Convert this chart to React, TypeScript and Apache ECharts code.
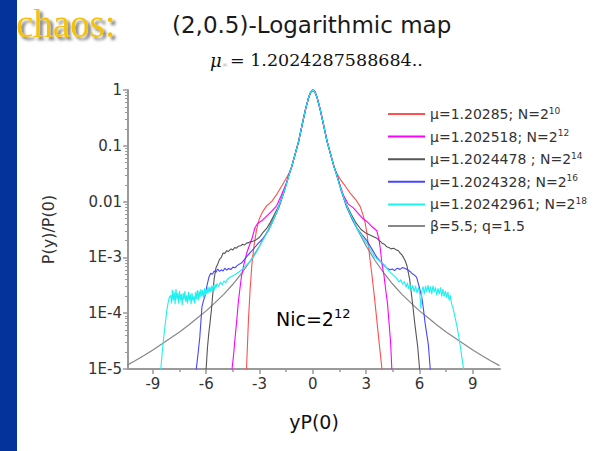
import React, { useEffect, useRef } from 'react';
import * as echarts from 'echarts';

const seriesNames = [
  'μ=1.20285; N=2^10',
  'μ=1.202518; N=2^12',
  'μ=1.2024478 ; N=2^14',
  'μ=1.2024328; N=2^16',
  'μ=1.20242961; N=2^18',
  'β=5.5; q=1.5',
];
const legendMain = [
  'μ=1.20285; N=2',
  'μ=1.202518; N=2',
  'μ=1.2024478 ; N=2',
  'μ=1.2024328; N=2',
  'μ=1.20242961; N=2',
  'β=5.5; q=1.5',
];
const legendSup = ['10', '12', '14', '16', '18', ''];
const seriesColors = ['#ff4f4f', '#ff00ff', '#555555', '#4646ff', '#1ff0f0', '#878787'];

const xTicks = [-9, -6, -3, 0, 3, 6, 9];
const xMinorTicks = [-7.5, -4.5, -1.5, 1.5, 4.5, 7.5];
const yTickLabels = ['1E-5', '1E-4', '1E-3', '0.01', '0.1', '1'];

type P = [number, number];

const corePeak: P[] = [
  [-1.2, 0.041], [-1.0, 0.07], [-0.8, 0.12], [-0.6, 0.24], [-0.4, 0.47], [-0.25, 0.71],
  [-0.12, 0.92], [0, 1], [0.12, 0.92], [0.25, 0.71], [0.4, 0.47], [0.6, 0.24],
  [0.8, 0.12], [1.0, 0.07], [1.2, 0.041],
];

const fitCurve: P[] = [
  [-10.5, 1.15e-5], [-10, 1.4e-5], [-9.5, 1.75e-5], [-9, 2.2e-5], [-8.5, 2.8e-5], [-8, 3.6e-5],
  [-7.5, 4.6e-5], [-7, 6.1e-5], [-6.5, 8.2e-5], [-6, 1.1e-4], [-5.5, 1.55e-4], [-5, 2.2e-4],
  [-4.5, 3.3e-4], [-4, 5.2e-4], [-3.5, 8.8e-4], [-3, 1.6e-3], [-2.5, 3.2e-3], [-2, 7.2e-3],
  [-1.75, 0.0115], [-1.5, 0.02], [-1.25, 0.037], [-1, 0.07], [-0.8, 0.12], [-0.6, 0.24],
  [-0.4, 0.47], [-0.25, 0.71], [-0.12, 0.92], [0, 1], [0.12, 0.92], [0.25, 0.71], [0.4, 0.47],
  [0.6, 0.24], [0.8, 0.12], [1, 0.07], [1.25, 0.037], [1.5, 0.02], [1.75, 0.0115], [2, 7.2e-3],
  [2.5, 3.2e-3], [3, 1.6e-3], [3.5, 8.8e-4], [4, 5.2e-4], [4.5, 3.3e-4], [5, 2.2e-4],
  [5.5, 1.55e-4], [6, 1.1e-4], [6.5, 8.2e-5], [7, 6.1e-5], [7.5, 4.6e-5], [8, 3.6e-5],
  [8.5, 2.8e-5], [9, 2.2e-5], [9.5, 1.75e-5], [10, 1.4e-5], [10.5, 1.15e-5],
];

const redLeft: P[] = [
  [-3.76, 6e-6], [-3.73, 1.05e-5], [-3.68, 2.6e-5], [-3.62, 8e-5], [-3.53, 2.6e-4], [-3.43, 7.5e-4],
  [-3.3, 1.7e-3], [-3.17, 3.1e-3], [-3.02, 4.8e-3], [-2.85, 6.4e-3], [-2.6, 8.4e-3], [-2.3, 0.0102],
  [-2.03, 0.0135], [-1.75, 0.019], [-1.46, 0.0275], [-1.3, 0.034],
];
const redRight: P[] = [
  [1.3, 0.034], [1.54, 0.025], [1.85, 0.0185], [2.1, 0.0142], [2.4, 0.011], [2.66, 0.0082],
  [2.82, 0.0058], [2.94, 0.0042], [3.05, 0.0026], [3.13, 0.0016], [3.22, 9e-4], [3.32, 5e-4],
  [3.46, 2e-4], [3.6, 7.5e-5], [3.75, 2.6e-5], [3.88, 1.05e-5], [3.92, 6e-6],
];

const magentaLeft: P[] = [
  [-4.58, 6e-6], [-4.54, 1.05e-5], [-4.46, 1.8e-5], [-4.38, 3.5e-5], [-4.28, 7.5e-5], [-4.2, 1.5e-4],
  [-4.1, 2.8e-4], [-4.02, 4.5e-4], [-3.9, 7e-4], [-3.72, 1.2e-3], [-3.55, 1.7e-3], [-3.4, 2.3e-3],
  [-3.26, 3.4e-3], [-3.1, 4.1e-3], [-2.85, 4.6e-3], [-2.6, 5.5e-3], [-2.3, 6.8e-3], [-2.03, 8.5e-3],
  [-1.8, 0.0125], [-1.5, 0.021], [-1.3, 0.033],
];
const magentaRight: P[] = [
  [1.3, 0.033], [1.5, 0.021], [1.72, 0.013], [2.0, 0.009], [2.28, 0.0077], [2.5, 0.0064],
  [2.75, 0.0052], [3.0, 0.0045], [3.13, 0.0041], [3.35, 0.0035], [3.6, 0.003], [3.72, 0.0021],
  [3.8, 0.0014], [3.88, 8e-4], [4.0, 4.8e-4], [4.1, 2.6e-4], [4.2, 1.5e-4], [4.3, 6e-5],
  [4.38, 2.8e-5], [4.44, 1.05e-5], [4.48, 6e-6],
];

const blackLeft: P[] = [
  [-6.05, 6e-6], [-6.0, 1.05e-5], [-5.93, 2.4e-5], [-5.85, 4.5e-5], [-5.79, 6.5e-5], [-5.7, 1.2e-4],
  [-5.62, 2.4e-4], [-5.55, 4.2e-4], [-5.45, 6.5e-4], [-5.35, 7.6e-4], [-5.25, 9.2e-4], [-5.15, 1.0e-3],
  [-5.05, 1.2e-3], [-4.95, 1.18e-3], [-4.85, 1.32e-3], [-4.75, 1.28e-3], [-4.6, 1.42e-3], [-4.5, 1.36e-3],
  [-4.4, 1.5e-3], [-4.3, 1.46e-3], [-4.2, 1.58e-3], [-4.05, 1.62e-3], [-3.95, 1.72e-3], [-3.85, 1.66e-3],
  [-3.73, 1.8e-3], [-3.6, 1.84e-3], [-3.5, 1.92e-3], [-3.38, 1.94e-3], [-3.26, 2.0e-3], [-3.0, 2.3e-3],
  [-2.8, 2.8e-3], [-2.6, 3.3e-3], [-2.4, 4.2e-3], [-2.15, 6.0e-3], [-1.9, 8.6e-3], [-1.6, 0.016],
  [-1.3, 0.034],
];
const blackRight: P[] = [
  [1.3, 0.034], [1.6, 0.016], [1.9, 8.6e-3], [2.15, 6.0e-3], [2.4, 4.3e-3], [2.7, 3.2e-3],
  [3.0, 2.7e-3], [3.3, 2.45e-3], [3.6, 2.2e-3], [3.75, 2.0e-3], [3.9, 1.8e-3], [4.05, 1.7e-3],
  [4.16, 1.55e-3], [4.28, 1.5e-3], [4.4, 1.42e-3], [4.55, 1.46e-3], [4.72, 1.35e-3], [4.82, 1.32e-3],
  [4.9, 1.2e-3], [5.0, 1.12e-3], [5.1, 1.0e-3], [5.2, 8.6e-4], [5.3, 7e-4], [5.45, 4e-4],
  [5.6, 1.6e-4], [5.75, 6e-5], [5.9, 2.5e-5], [6.0, 1.05e-5], [6.03, 6e-6],
];

const blueLeft: P[] = [
  [-6.6, 6e-6], [-6.55, 1.05e-5], [-6.45, 2e-5], [-6.36, 3.7e-5], [-6.3, 7e-5], [-6.24, 1.3e-4],
  [-6.15, 1.7e-4], [-6.07, 2e-4], [-5.95, 3.2e-4], [-5.85, 4.4e-4], [-5.75, 5.2e-4], [-5.65, 5.0e-4],
  [-5.55, 5.7e-4], [-5.45, 5.4e-4], [-5.35, 6.2e-4], [-5.25, 5.6e-4], [-5.15, 6.0e-4], [-5.05, 5.7e-4],
  [-4.95, 6.4e-4], [-4.85, 5.9e-4], [-4.76, 6.3e-4], [-4.6, 6.1e-4], [-4.5, 6.7e-4], [-4.38, 6.5e-4],
  [-4.25, 7.2e-4], [-4.0, 8e-4], [-3.7, 1.05e-3], [-3.4, 1.35e-3], [-3.1, 1.75e-3], [-2.8, 2.2e-3],
  [-2.5, 3e-3], [-2.2, 4.8e-3], [-1.9, 8e-3], [-1.6, 0.0155], [-1.3, 0.034],
];
const blueRight: P[] = [
  [1.3, 0.034], [1.6, 0.0155], [1.9, 8e-3], [2.2, 4.9e-3], [2.47, 3.4e-3], [2.75, 2.6e-3],
  [3.04, 2e-3], [3.3, 1.45e-3], [3.6, 1e-3], [3.95, 7.5e-4], [4.2, 6.3e-4], [4.35, 6e-4],
  [4.48, 6.2e-4], [4.6, 5.8e-4], [4.75, 6.4e-4], [4.91, 6.1e-4], [5.05, 6.6e-4], [5.2, 6.3e-4],
  [5.33, 6.0e-4], [5.47, 5.6e-4], [5.56, 5.2e-4], [5.65, 5e-4], [5.75, 4.7e-4], [5.84, 4.4e-4],
  [5.98, 3e-4], [6.13, 1.95e-4], [6.22, 1.2e-4], [6.32, 6.5e-5], [6.42, 4e-5], [6.5, 2.7e-5],
  [6.6, 1.05e-5], [6.64, 6e-6],
];

const cyanLeft: P[] = [
  [-8.6, 6e-6], [-8.55, 1.05e-5], [-8.5, 1.6e-5], [-8.45, 2.4e-5], [-8.38, 4e-5], [-8.3, 6.5e-5],
  [-8.22, 1.1e-4], [-8.15, 1.5e-4], [-8.08, 1.9e-4], [-8.0, 2.1e-4], [-7.95, 1.5e-4], [-7.9, 2.6e-4],
  [-7.85, 1.7e-4], [-7.8, 2.4e-4], [-7.75, 1.45e-4], [-7.7, 2.7e-4], [-7.65, 1.8e-4], [-7.6, 2.3e-4],
  [-7.55, 1.5e-4], [-7.5, 2.5e-4], [-7.45, 1.7e-4], [-7.4, 2.2e-4], [-7.35, 1.4e-4], [-7.3, 2.3e-4],
  [-7.25, 1.75e-4], [-7.2, 2.5e-4], [-7.15, 1.6e-4], [-7.1, 2.1e-4], [-7.05, 1.5e-4], [-7.0, 2.4e-4],
  [-6.95, 1.7e-4], [-6.9, 2.2e-4], [-6.85, 1.45e-4], [-6.8, 2.3e-4], [-6.75, 1.7e-4], [-6.7, 2.0e-4],
  [-6.65, 1.5e-4], [-6.6, 2.4e-4], [-6.55, 1.8e-4], [-6.5, 2.6e-4], [-6.45, 1.7e-4], [-6.4, 2.5e-4],
  [-6.35, 1.9e-4], [-6.3, 2.7e-4], [-6.25, 2.0e-4], [-6.2, 2.6e-4], [-6.15, 1.9e-4], [-6.1, 2.8e-4],
  [-6.05, 2.1e-4], [-6.0, 2.7e-4], [-5.95, 2.2e-4], [-5.9, 3.0e-4], [-5.85, 2.3e-4], [-5.8, 2.9e-4],
  [-5.75, 2.4e-4], [-5.7, 3.1e-4], [-5.65, 2.5e-4], [-5.6, 3.2e-4], [-5.55, 2.6e-4], [-5.5, 3.3e-4],
  [-5.45, 2.8e-4], [-5.4, 3.4e-4], [-5.3, 3.0e-4], [-5.2, 3.6e-4], [-5.1, 3.2e-4], [-5.0, 3.8e-4],
  [-4.9, 3.5e-4], [-4.8, 4.1e-4], [-4.65, 4.4e-4], [-4.5, 4.7e-4], [-4.3, 5.1e-4], [-4.0, 6e-4],
  [-3.7, 7.5e-4], [-3.45, 9e-4], [-3.2, 1.2e-3], [-2.9, 1.8e-3], [-2.6, 2.7e-3], [-2.33, 3.9e-3],
  [-2.0, 7.0e-3], [-1.75, 0.0115], [-1.5, 0.02], [-1.3, 0.033],
];
const cyanRight: P[] = [
  [1.3, 0.033], [1.5, 0.02], [1.75, 0.0115], [2.0, 7.1e-3], [2.5, 3.3e-3], [3.04, 1.75e-3],
  [3.5, 1.0e-3], [4.0, 7.5e-4], [4.3, 5.6e-4], [4.5, 4.9e-4], [4.7, 4.3e-4], [4.85, 3.6e-4],
  [4.95, 4.0e-4], [5.05, 3.3e-4], [5.15, 3.7e-4], [5.25, 2.9e-4], [5.32, 3.5e-4], [5.4, 2.7e-4],
  [5.47, 3.3e-4], [5.55, 2.5e-4], [5.62, 3.2e-4], [5.7, 2.4e-4], [5.78, 3.1e-4], [5.86, 2.3e-4],
  [5.94, 2.9e-4], [6.02, 2.2e-4], [6.08, 1.2e-4], [6.14, 2.6e-4], [6.2, 3.0e-4], [6.27, 2.2e-4],
  [6.34, 3.1e-4], [6.41, 2.4e-4], [6.48, 3.2e-4], [6.55, 2.3e-4], [6.62, 3.0e-4], [6.69, 2.2e-4],
  [6.76, 3.1e-4], [6.83, 2.4e-4], [6.9, 2.9e-4], [6.97, 2.1e-4], [7.04, 2.8e-4], [7.11, 2.2e-4],
  [7.18, 2.9e-4], [7.25, 2.0e-4], [7.32, 2.7e-4], [7.39, 2.0e-4], [7.46, 2.5e-4], [7.53, 1.9e-4],
  [7.6, 2.4e-4], [7.67, 1.7e-4], [7.74, 2.1e-4], [7.8, 1.5e-4], [7.9, 1.2e-4], [8.0, 8.5e-5],
  [8.1, 6e-5], [8.2, 4e-5], [8.3, 2.5e-5], [8.4, 1.5e-5], [8.47, 1.05e-5], [8.52, 6e-6],
];

const seriesData: P[][] = [
  [...redLeft, ...corePeak, ...redRight],
  [...magentaLeft, ...corePeak, ...magentaRight],
  [...blackLeft, ...corePeak, ...blackRight],
  [...blueLeft, ...corePeak, ...blueRight],
  [...cyanLeft, ...corePeak, ...cyanRight],
  fitCurve,
];

const SANS = 'DejaVu Sans';
const AXIS_GRAY = '#9a9a9a';

export default function App() {
  const ref = useRef<HTMLDivElement>(null);

  useEffect(() => {
    if (!ref.current) return;
    const chart = echarts.init(ref.current, null, { renderer: 'svg' });

    const lineSeries = seriesNames.map((name, i) => ({
      name,
      type: 'line',
      data: seriesData[i],
      symbol: 'none',
      showSymbol: false,
      clip: true,
      color: seriesColors[i],
      lineStyle: { width: i === 5 ? 1.2 : 1.1, color: seriesColors[i] },
      z: i === 5 ? 1 : 2 + i,
    }));

    chart.setOption({
      animation: false,
      backgroundColor: '#ffffff',
      grid: { left: 128, top: 90, width: 372, height: 279 },
      legend: {
        data: seriesNames,
        orient: 'vertical',
        left: 383,
        top: 101,
        icon: 'rect',
        itemWidth: 37,
        itemHeight: 2,
        itemGap: 7.6,
        selectedMode: false,
        formatter: (name: string) => {
          const i = seriesNames.indexOf(name);
          return legendSup[i]
            ? `{m|${legendMain[i]}}{s|${legendSup[i]}}`
            : `{m|${legendMain[i]}}`;
        },
        textStyle: {
          fontFamily: SANS,
          fontSize: 14,
          color: '#333',
          rich: {
            m: { fontFamily: SANS, fontSize: 14, lineHeight: 16, color: '#333' },
            s: { fontFamily: SANS, fontSize: 9, lineHeight: 9, verticalAlign: 'top', color: '#333' },
          },
        },
      },
      xAxis: [
        {
          type: 'value',
          min: -10.4,
          max: 10.53,
          name: 'yP(0)',
          nameLocation: 'middle',
          nameGap: 43,
          nameTextStyle: { fontFamily: SANS, fontSize: 19, color: '#111' },
          axisLine: { show: true, onZero: false, lineStyle: { color: AXIS_GRAY, width: 2 } },
          axisTick: { show: true, customValues: xTicks, length: 5, lineStyle: { color: AXIS_GRAY, width: 1.5 } },
          axisLabel: { customValues: xTicks, fontFamily: SANS, fontSize: 15, color: '#333', margin: 7 },
          splitLine: { show: false },
        },
        {
          type: 'value',
          min: -10.4,
          max: 10.53,
          position: 'bottom',
          offset: 0,
          axisLine: { show: false },
          axisTick: { show: true, customValues: xMinorTicks, length: 3, lineStyle: { color: AXIS_GRAY, width: 1.5 } },
          axisLabel: { show: false },
          splitLine: { show: false },
        },
      ],
      yAxis: {
        type: 'log',
        logBase: 10,
        min: 1e-5,
        max: 1,
        name: 'P(y)/P(0)',
        nameLocation: 'middle',
        nameRotate: 90,
        nameGap: 72,
        nameTextStyle: { fontFamily: SANS, fontSize: 16, color: '#333' },
        axisLine: { show: true, onZero: false, lineStyle: { color: AXIS_GRAY, width: 2 } },
        axisTick: { show: true, length: 5, lineStyle: { color: AXIS_GRAY, width: 1.5 } },
        minorTick: { show: true, splitNumber: 9, length: 3, lineStyle: { color: AXIS_GRAY, width: 1 } },
        axisLabel: {
          fontFamily: SANS,
          fontSize: 15,
          color: '#333',
          margin: 6,
          formatter: (v: number) => yTickLabels[Math.round(Math.log10(v)) + 5] ?? '',
        },
        splitLine: { show: false },
      },
      graphic: [
        { type: 'rect', left: 0, top: 0, shape: { x: 0, y: 0, width: 17, height: 451 }, style: { fill: '#04339b' }, silent: true },
        {
          type: 'text', x: 16, y: 23,
          style: {
            text: 'chaos:', fill: '#f4c20d', fontFamily: 'Liberation Serif', fontSize: 39,
            textAlign: 'left', textVerticalAlign: 'middle',
            textShadowColor: 'rgba(0,0,0,0.55)', textShadowBlur: 3, textShadowOffsetX: 3, textShadowOffsetY: 3,
          },
        },
        {
          type: 'text', x: 172, y: 25,
          style: { text: '(2,0.5)-Logarithmic map', fill: '#1a1a1a', fontFamily: SANS, fontSize: 23, textAlign: 'left', textVerticalAlign: 'middle' },
        },
        {
          type: 'text', x: 210, y: 60,
          style: { text: 'μ', fill: '#111', fontFamily: 'DejaVu Serif', fontStyle: 'italic', fontSize: 18, textAlign: 'left', textVerticalAlign: 'middle' },
        },
        {
          type: 'text', x: 222, y: 65,
          style: { text: '∞', fill: '#aaa', fontFamily: 'DejaVu Serif', fontSize: 7, textAlign: 'left', textVerticalAlign: 'middle' },
        },
        {
          type: 'text', x: 230, y: 60,
          style: { text: '= 1.2024287588684..', fill: '#111', fontFamily: 'DejaVu Serif', fontSize: 17.5, textAlign: 'left', textVerticalAlign: 'middle' },
        },
        {
          type: 'text', x: 276, y: 319,
          style: { text: 'Nic=2', fill: '#000', fontFamily: SANS, fontSize: 19, textAlign: 'left', textVerticalAlign: 'middle' },
        },
        {
          type: 'text', x: 334, y: 313,
          style: { text: '12', fill: '#000', fontFamily: SANS, fontSize: 13, textAlign: 'left', textVerticalAlign: 'middle' },
        },
      ],
      series: lineSeries,
    });

    return () => chart.dispose();
  }, []);

  return (
    <div
      ref={ref}
      style={{ position: 'fixed', left: 0, top: 0, width: 606, height: 451, background: '#fff' }}
    />
  );
}
